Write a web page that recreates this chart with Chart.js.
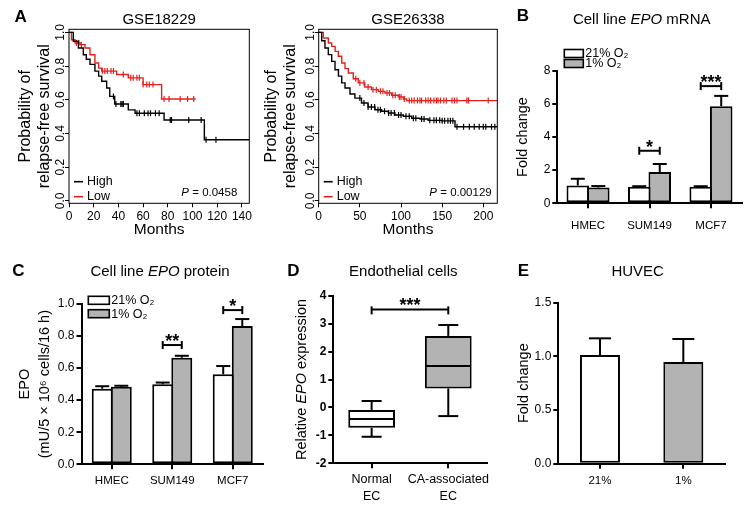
<!DOCTYPE html>
<html>
<head>
<meta charset="utf-8">
<script src="https://cdn.jsdelivr.net/npm/chart.js@4.4.1/dist/chart.umd.min.js"></script>
<style>
  body { margin: 0; background: #fff; width: 751px; height: 510px; position: relative; overflow: hidden; }
  canvas { position: absolute; }
</style>
</head>
<body>
<canvas id="kmA1" width="255" height="255" style="left:0;top:0"></canvas>
<canvas id="kmA2" width="250" height="255" style="left:255px;top:0"></canvas>
<canvas id="barB" width="246" height="255" style="left:505px;top:0"></canvas>
<canvas id="barC" width="266" height="255" style="left:0;top:255px"></canvas>
<canvas id="boxD" width="239" height="255" style="left:266px;top:255px"></canvas>
<canvas id="barE" width="246" height="255" style="left:505px;top:255px"></canvas>
<script>
// ---- data ----
// A: Kaplan-Meier, GSE18229 (months, survival after each step)
const a1HighTime = [0, 3.5, 7.6, 11.6, 14, 17, 21, 24, 26.5, 30.5, 33, 37, 48, 53.5, 77, 109.6, 146];
const a1HighSurv = [1.0, 0.947, 0.907, 0.867, 0.84, 0.81, 0.77, 0.74, 0.71, 0.67, 0.62, 0.575, 0.54, 0.52, 0.48, 0.363, 0.363];
const a1LowTime = [0, 2, 4.9, 9, 13, 17, 21, 24, 26.5, 38.6, 48, 60, 75, 102.6];
const a1LowSurv = [1.0, 0.956, 0.937, 0.927, 0.907, 0.867, 0.818, 0.788, 0.77, 0.75, 0.73, 0.69, 0.605, 0.605];
const a1HighCensor = [36, 38, 42, 43, 44, 55, 57, 61, 64, 66, 70, 73, 82, 83, 97, 107, 111, 119];
const a1LowCensor = [6, 8, 10, 27, 29, 31, 34, 36, 44, 50, 52, 55, 57, 60, 63, 65, 68, 77, 81, 90, 96, 101];
const a1P = '0.0458';

// A: Kaplan-Meier, GSE26338
const a2HighTime = [0, 3.6, 7.6, 11.7, 15.8, 19.8, 24, 28, 32, 38, 44, 52, 60, 68.4, 76.5, 84.6, 92.7, 102.8, 113, 123, 133, 149.5, 165.6, 217];
const a2HighSurv = [1.0, 0.95, 0.907, 0.868, 0.828, 0.778, 0.74, 0.70, 0.67, 0.634, 0.61, 0.581, 0.557, 0.541, 0.532, 0.522, 0.51, 0.502, 0.49, 0.486, 0.478, 0.475, 0.44, 0.44];
const a2LowTime = [0, 5.6, 11.7, 15.8, 20, 23.8, 28, 32, 36, 42, 48, 56, 64, 72.5, 80.5, 88.7, 96.7, 102.8, 107, 217];
const a2LowSurv = [1.0, 0.966, 0.937, 0.917, 0.887, 0.858, 0.818, 0.785, 0.759, 0.725, 0.70, 0.676, 0.66, 0.65, 0.64, 0.627, 0.617, 0.605, 0.595, 0.595];
const a2HighCensor = [50, 55, 60, 64, 68, 72, 75, 80, 85, 88, 92, 97, 100, 106, 110, 115, 118, 125, 128, 135, 140, 143, 147, 150, 153, 157, 160, 163, 168, 176, 183, 189, 195, 200, 203, 210, 214];
const a2LowCensor = [45, 50, 55, 60, 66, 70, 75, 78, 83, 86, 90, 93, 98, 100, 104, 110, 113, 116, 120, 123, 125, 130, 133, 136, 140, 143, 145, 148, 152, 155, 162, 165, 168, 180, 182, 206];
const a2P = '0.00129';

const kmGroups = ['High', 'Low'];
const survTicks = [0, 0.2, 0.4, 0.6, 0.8, 1.0];
const a1MonthTicks = [0, 20, 40, 60, 80, 100, 120, 140];
const a2MonthTicks = [0, 50, 100, 150, 200];

// B, C: cell lines
const cellLines = ['HMEC', 'SUM149', 'MCF7'];
const oxygenLabels = ['21% O\u2082', '1% O\u2082'];
const mrnaNormoxia = [1.08, 1.0, 1.0];
const mrnaNormoxiaErr = [0.40, 0.03, 0.03];
const mrnaHypoxia = [0.95, 1.89, 5.86];
const mrnaHypoxiaErr = [0.09, 0.48, 0.62];
const mrnaSigLevel = [null, 3.17, 7.07];
const mrnaStars = ['', '*', '***'];

const proteinNormoxia = [0.472, 0.499, 0.561];
const proteinNormoxiaErr = [0.015, 0.011, 0.052];
const proteinHypoxia = [0.484, 0.665, 0.863];
const proteinHypoxiaErr = [0.006, 0.012, 0.043];
const proteinSigLevel = [null, 0.744, 0.962];
const proteinStars = ['', '**', '*'];

// D: endothelial cells box plot
const ecGroups = [['Normal', 'EC'], ['CA-associated', 'EC']];
const ecMin = [-1.05, -0.31];
const ecQ1 = [-0.73, 0.68];
const ecMedian = [-0.41, 1.48];
const ecQ3 = [-0.09, 2.56];
const ecMax = [0.23, 2.95];
const ecSigLevel = 3.51;

// E: HUVEC
const huvecLabels = ['21%', '1%'];
const huvecFold = [1.013, 0.947];
const huvecErr = [0.155, 0.215];

// ---- style ----
const FONT = '"Liberation Sans", Arial, Helvetica, sans-serif';
const RED = '#e3211c';
const GREY = '#b3b3b3';
Chart.defaults.font.family = FONT;
Chart.defaults.color = '#000';
Chart.defaults.animation = false;
Chart.defaults.responsive = false;
Chart.defaults.plugins.legend.display = false;
Chart.defaults.plugins.tooltip.enabled = false;

// text with mixed italic parts: segs = [[text, 'i'|'b'|'']]
function rich(ctx, segs, x, y, size, opts = {}) {
  ctx.save();
  ctx.translate(x, y);
  if (opts.rotate) ctx.rotate(opts.rotate);
  ctx.textBaseline = 'middle';
  ctx.textAlign = 'left';
  ctx.fillStyle = opts.color || '#000';
  let w = 0;
  const parts = segs.map(([t, st]) => {
    const f = (st === 'i' ? 'italic ' : st === 'b' ? 'bold ' : '') + size + 'px ' + FONT;
    ctx.font = f;
    const pw = ctx.measureText(t).width;
    w += pw;
    return { t, f, pw };
  });
  let cx = opts.align === 'right' ? -w : opts.align === 'left' ? 0 : -w / 2;
  parts.forEach(p => { ctx.font = p.f; ctx.fillText(p.t, cx, 0); cx += p.pw; });
  ctx.restore();
}

function line(ctx, x1, y1, x2, y2) {
  ctx.beginPath(); ctx.moveTo(x1, y1); ctx.lineTo(x2, y2); ctx.stroke();
}

function decor(cfg) {
  return {
    id: 'decor',
    afterDraw(chart) {
      const ctx = chart.ctx, a = chart.chartArea;
      if (cfg.letter) {
        ctx.save();
        ctx.font = 'bold 17px ' + FONT;
        ctx.textAlign = 'center';
        ctx.textBaseline = 'middle';
        ctx.fillStyle = '#000';
        ctx.fillText(cfg.letter[0], cfg.letter[1], cfg.letter[2]);
        ctx.restore();
      }
      if (cfg.title) {
        const tx = cfg.titleX != null ? cfg.titleX : (a.left + a.right) / 2;
        rich(ctx, cfg.title, tx, cfg.titleY, 15);
      }
      if (cfg.extra) cfg.extra(chart, ctx, a);
    }
  };
}

function errorBars(errs, cap) {
  return {
    id: 'errorBars',
    afterDatasetsDraw(chart) {
      const ctx = chart.ctx, ys = chart.scales.y;
      ctx.save();
      ctx.strokeStyle = '#000';
      ctx.lineWidth = 2;
      errs.forEach((arr, di) => {
        chart.getDatasetMeta(di).data.forEach((bar, i) => {
          const v = chart.data.datasets[di].data[i];
          const top = ys.getPixelForValue(v + arr[i]);
          line(ctx, bar.x, bar.y, bar.x, top);
          line(ctx, bar.x - cap / 2, top, bar.x + cap / 2, top);
        });
      });
      ctx.restore();
    }
  };
}

function brackets(levels, stars) {
  return {
    id: 'brackets',
    afterDatasetsDraw(chart) {
      const ctx = chart.ctx, ys = chart.scales.y;
      const m0 = chart.getDatasetMeta(0), m1 = chart.getDatasetMeta(1);
      ctx.save();
      ctx.strokeStyle = '#000';
      ctx.fillStyle = '#000';
      ctx.lineWidth = 2;
      levels.forEach((lv, i) => {
        if (lv == null) return;
        const y = ys.getPixelForValue(lv);
        const x1 = m0.data[i].x, x2 = m1.data[i].x;
        line(ctx, x1, y, x2, y);
        line(ctx, x1, y - 4, x1, y + 4);
        line(ctx, x2, y - 4, x2, y + 4);
        ctx.font = 'bold 18px ' + FONT;
        ctx.textAlign = 'center';
        ctx.textBaseline = 'alphabetic';
        ctx.fillText(stars[i], (x1 + x2) / 2, y + 2);
      });
      ctx.restore();
    }
  };
}

function oxygenLegend(x, y, w, h, step, size) {
  return (chart, ctx) => {
    ctx.save();
    [['#fff'], [GREY]].forEach(([fill], i) => {
      const by = y + i * step;
      ctx.fillStyle = fill;
      ctx.fillRect(x, by, w, h);
      ctx.strokeStyle = '#000';
      ctx.lineWidth = 1.6;
      ctx.strokeRect(x, by, w, h);
      ctx.fillStyle = '#000';
      ctx.font = size + 'px ' + FONT;
      ctx.textAlign = 'left';
      ctx.textBaseline = 'middle';
      ctx.fillText(oxygenLabels[i], x + w + 2, by + h / 2 + 0.5);
    });
    ctx.restore();
  };
}

function prismAxes(o) {
  return {
    x: {
      offset: true,
      afterFit: s => { s.height = o.xH; },
      border: { display: true, width: 2, color: '#000' },
      grid: { display: true, offset: false, drawOnChartArea: false, drawTicks: true, tickLength: 5, lineWidth: 2, color: '#000' },
      ticks: { font: { size: o.xFont || 11.5, lineHeight: o.xLH || 1.2 }, padding: o.xPad, maxRotation: 0, autoSkip: false }
    },
    y: {
      min: o.min, max: o.max,
      afterFit: s => { s.width = o.yW; },
      border: { display: true, width: 2, color: '#000' },
      grid: { display: true, drawOnChartArea: false, drawTicks: true, tickLength: 5, lineWidth: 2, color: '#000' },
      ticks: { stepSize: o.step, font: { size: 12, weight: o.bold ? 'bold' : 'normal' }, padding: 2, autoSkip: false, callback: o.fmt },
      title: o.yTitle
        ? { display: true, text: o.yTitle, font: { size: 14.5, lineHeight: o.yLH || 1.2 }, padding: { top: o.yTitlePad, bottom: 0 } }
        : { display: false }
    }
  };
}

// ---- A: Kaplan-Meier panels ----
function stepAt(times, surv, t) {
  let s = surv[0];
  for (let i = 0; i < times.length; i++) if (times[i] <= t) s = surv[i];
  return s;
}

function kmChart(id, o) {
  const pts = (T, S) => T.map((t, i) => ({ x: t, y: S[i] }));
  const cens = (C, T, S) => C.map(t => ({ x: t, y: stepAt(T, S, t) }));
  const curve = (data, color) => ({ data, borderColor: color, borderWidth: 1.4, stepped: true, pointRadius: 0, fill: false });
  const marks = (data, color) => ({ data, showLine: false, pointStyle: 'line', pointRotation: 90, pointRadius: 3, pointBorderWidth: 1.2, pointBorderColor: color });
  new Chart(document.getElementById(id), {
    type: 'line',
    data: {
      datasets: [
        curve(pts(o.highT, o.highS), '#000'),
        curve(pts(o.lowT, o.lowS), RED),
        marks(cens(o.highC, o.highT, o.highS), '#000'),
        marks(cens(o.lowC, o.lowT, o.lowS), RED)
      ]
    },
    options: {
      layout: { padding: { top: 29.3, right: o.padRight, left: 0, bottom: 0 } },
      scales: {
        x: {
          type: 'linear', min: 0, max: o.xMax,
          afterBuildTicks: s => { s.ticks = o.xTicks.map(v => ({ value: v })); },
          afterFit: s => { s.height = 51.7; },
          border: { display: false },
          grid: { display: true, drawOnChartArea: false, drawTicks: true, tickLength: 4, color: '#000', lineWidth: 1 },
          ticks: { font: { size: 12 }, padding: 2.5, maxRotation: 0, autoSkip: false, callback: v => v },
          title: { display: true, text: 'Months', font: { size: 15.5 }, padding: { top: 0, bottom: 15.5 } }
        },
        y: {
          min: -0.014, max: 1.018,
          afterBuildTicks: s => { s.ticks = survTicks.map(v => ({ value: v })); },
          afterFit: s => { s.width = o.yW; },
          border: { display: false },
          grid: { display: true, drawOnChartArea: false, drawTicks: true, tickLength: 4, color: '#000', lineWidth: 1 },
          ticks: { font: { size: 12 }, minRotation: 90, maxRotation: 90, crossAlign: 'center', padding: -4, autoSkip: false, callback: v => v.toFixed(1) },
          title: { display: true, text: ['Probability of', 'relapse-free survival'], font: { size: 16, lineHeight: '19px' }, padding: { top: o.yTitlePad, bottom: 0 } }
        }
      }
    },
    plugins: [decor({
      letter: o.letter,
      title: [[o.title, '']],
      titleY: 20,
      extra: (chart, ctx, a) => {
        ctx.save();
        ctx.strokeStyle = '#000';
        ctx.lineWidth = 1;
        ctx.strokeRect(a.left, a.top, a.right - a.left, a.bottom - a.top);
        [['#000', -21.6], [RED, -6.6]].forEach(([c, dy], i) => {
          ctx.strokeStyle = c;
          ctx.lineWidth = 1.6;
          line(ctx, a.left + 5, a.bottom + dy, a.left + 14, a.bottom + dy);
          ctx.fillStyle = '#000';
          ctx.font = '12.5px ' + FONT;
          ctx.textAlign = 'left';
          ctx.textBaseline = 'middle';
          ctx.fillText(kmGroups[i], a.left + 18, a.bottom + dy);
        });
        ctx.restore();
        rich(ctx, [['P', 'i'], [' = ' + o.p, '']], a.right + o.pDx, a.bottom - 10.5, 11.5, { align: 'right' });
      }
    })]
  });
}

kmChart('kmA1', {
  highT: a1HighTime, highS: a1HighSurv, lowT: a1LowTime, lowS: a1LowSurv,
  highC: a1HighCensor, lowC: a1LowCensor, p: a1P, xTicks: a1MonthTicks, xMax: 146,
  padRight: 5.7, yW: 69, yTitlePad: 16.5, title: 'GSE18229', letter: ['A', 20.7, 17.8], pDx: -12
});
kmChart('kmA2', {
  highT: a2HighTime, highS: a2HighSurv, lowT: a2LowTime, lowS: a2LowSurv,
  highC: a2HighCensor, lowC: a2LowCensor, p: a2P, xTicks: a2MonthTicks, xMax: 217,
  padRight: 7.7, yW: 63.7, yTitlePad: 7.5, title: 'GSE26338', letter: null, pDx: -5.6
});

// ---- B: EPO mRNA ----
new Chart(document.getElementById('barB'), {
  type: 'bar',
  data: {
    labels: cellLines,
    datasets: [
      { data: mrnaNormoxia, backgroundColor: '#fff', borderColor: '#000', borderWidth: 2, borderSkipped: false, categoryPercentage: 0.667, barPercentage: 1.1 },
      { data: mrnaHypoxia, backgroundColor: GREY, borderColor: '#000', borderWidth: 2, borderSkipped: false, categoryPercentage: 0.667, barPercentage: 1.1 }
    ]
  },
  options: {
    layout: { padding: { top: 70.7, right: 9.3, left: 0, bottom: 0 } },
    scales: prismAxes({ xH: 51.7, xPad: 11, min: 0, max: 8, step: 2, yW: 52.3, fmt: v => v, yTitle: 'Fold change', yTitlePad: 9.6 })
  },
  plugins: [
    errorBars([mrnaNormoxiaErr, mrnaHypoxiaErr], 14),
    brackets(mrnaSigLevel, mrnaStars),
    decor({
      letter: ['B', 18, 16.7],
      title: [['Cell line ', ''], ['EPO', 'i'], [' mRNA', '']],
      titleX: 136.7, titleY: 20,
      extra: oxygenLegend(59.3, 49.5, 19, 8, 10, 12.5)
    })
  ]
});

// ---- C: EPO protein ----
new Chart(document.getElementById('barC'), {
  type: 'bar',
  data: {
    labels: cellLines,
    datasets: [
      { data: proteinNormoxia, backgroundColor: '#fff', borderColor: '#000', borderWidth: 2, borderSkipped: false, categoryPercentage: 0.63, barPercentage: 1.1 },
      { data: proteinHypoxia, backgroundColor: GREY, borderColor: '#000', borderWidth: 2, borderSkipped: false, categoryPercentage: 0.63, barPercentage: 1.1 }
    ]
  },
  options: {
    layout: { padding: { top: 49, right: 3, left: 0, bottom: 0 } },
    scales: prismAxes({
      xH: 45.7, xPad: 4.7, min: 0, max: 1, step: 0.2, yW: 81.5, fmt: v => v.toFixed(1),
      yTitle: ['EPO', '(mU/5 \u00d7 10\u2076 cells/16 h)'], yLH: '20px', yTitlePad: 15
    })
  },
  plugins: [
    errorBars([proteinNormoxiaErr, proteinHypoxiaErr], 14),
    brackets(proteinSigLevel, proteinStars),
    decor({
      letter: ['C', 18.3, 16.7],
      title: [['Cell line ', ''], ['EPO', 'i'], [' protein', '']],
      titleX: 160, titleY: 16.7,
      extra: oxygenLegend(88.3, 41.3, 21, 8, 13.4, 12.5)
    })
  ]
});

// ---- D: endothelial cells box plot ----
new Chart(document.getElementById('boxD'), {
  type: 'bar',
  data: {
    labels: ecGroups,
    datasets: [{
      data: ecQ1.map((q, i) => [q, ecQ3[i]]),
      backgroundColor: ['#fff', GREY], borderColor: '#000', borderWidth: 2, borderSkipped: false,
      categoryPercentage: 0.61, barPercentage: 1
    }]
  },
  options: {
    layout: { padding: { top: 40.7, right: 18.4, left: 0, bottom: 0 } },
    scales: prismAxes({ xH: 46.7, xPad: 3, xFont: 12.5, xLH: 1.35, min: -2, max: 4, step: 1, yW: 67.3, bold: true, fmt: v => v })
  },
  plugins: [
    {
      id: 'whiskers',
      afterDatasetsDraw(chart) {
        const ctx = chart.ctx, ys = chart.scales.y, xs = chart.scales.x;
        ctx.save();
        ctx.strokeStyle = '#000';
        ctx.fillStyle = '#000';
        ctx.lineWidth = 2;
        chart.getDatasetMeta(0).data.forEach((el, i) => {
          const x = el.x, half = el.width / 2;
          const yMax = ys.getPixelForValue(ecMax[i]), yMin = ys.getPixelForValue(ecMin[i]);
          line(ctx, x, ys.getPixelForValue(ecQ3[i]), x, yMax);
          line(ctx, x - 10, yMax, x + 10, yMax);
          line(ctx, x, ys.getPixelForValue(ecQ1[i]), x, yMin);
          line(ctx, x - 10, yMin, x + 10, yMin);
          const yMed = ys.getPixelForValue(ecMedian[i]);
          line(ctx, x - half + 1, yMed, x + half - 1, yMed);
        });
        const yb = ys.getPixelForValue(ecSigLevel);
        const x1 = xs.getPixelForValue(0), x2 = xs.getPixelForValue(1);
        line(ctx, x1, yb, x2, yb);
        line(ctx, x1, yb - 3, x1, yb + 5);
        line(ctx, x2, yb - 3, x2, yb + 5);
        ctx.font = 'bold 18px ' + FONT;
        ctx.textAlign = 'center';
        ctx.textBaseline = 'alphabetic';
        ctx.fillText('***', (x1 + x2) / 2, yb + 2);
        ctx.restore();
      }
    },
    decor({
      letter: ['D', 27.3, 16.7],
      title: [['Endothelial cells', '']],
      titleX: 137.3, titleY: 16.7,
      extra: (chart, ctx, a) => {
        rich(ctx, [['Relative ', ''], ['EPO', 'i'], [' expression', '']], 35.7, (a.top + a.bottom) / 2, 14.5, { rotate: -Math.PI / 2 });
      }
    })
  ]
});

// ---- E: HUVEC ----
new Chart(document.getElementById('barE'), {
  type: 'bar',
  data: {
    labels: huvecLabels,
    datasets: [{
      data: huvecFold, backgroundColor: ['#fff', GREY], borderColor: '#000', borderWidth: 2, borderSkipped: false,
      categoryPercentage: 0.48, barPercentage: 1
    }]
  },
  options: {
    layout: { padding: { top: 47.7, right: 26, left: 0, bottom: 0 } },
    scales: prismAxes({ xH: 46.3, xPad: 5.3, min: 0, max: 1.5, step: 0.5, yW: 53.3, fmt: v => v.toFixed(1), yTitle: 'Fold change', yTitlePad: 9.9 })
  },
  plugins: [
    errorBars([huvecErr], 22),
    decor({ letter: ['E', 18.3, 16.7], title: [['HUVEC', '']], titleX: 132.7, titleY: 16.7 })
  ]
});
</script>
</body>
</html>
